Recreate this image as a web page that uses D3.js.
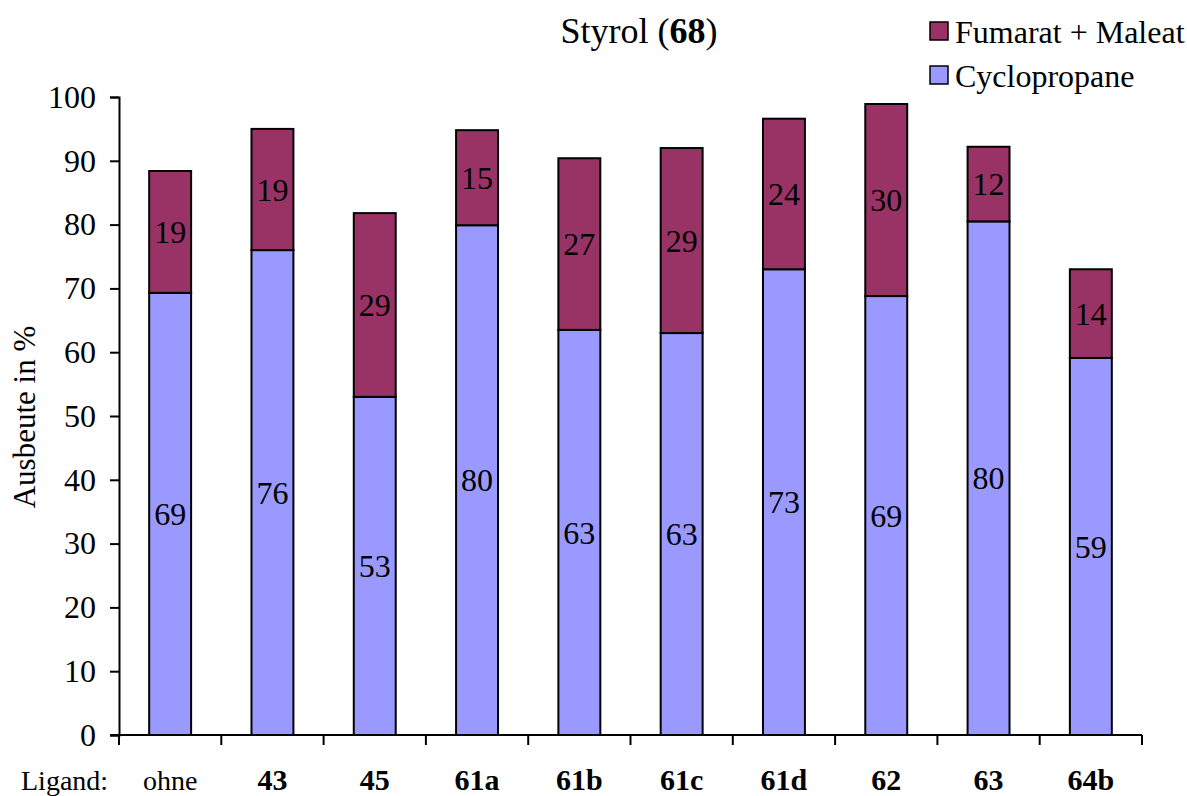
<!DOCTYPE html>
<html>
<head>
<meta charset="utf-8">
<script src="https://cdn.jsdelivr.net/npm/d3@7"></script>
<style>
  body { margin: 0; background: #fff; }
  svg text { font-family: "Liberation Serif", "Times New Roman", Times, serif !important; fill: #000; }
</style>
</head>
<body>
<script>
// data
var categories = ['ohne', '43', '45', '61a', '61b', '61c', '61d', '62', '63', '64b'];
var cyclopropane = [69.3, 76.0, 53.0, 79.9, 63.5, 63.0, 73.0, 68.8, 80.5, 59.1];
var fumaratMaleat = [19.1, 19.0, 28.8, 14.9, 26.9, 29.0, 23.6, 30.1, 11.7, 13.9];
var cycloLabels = [69, 76, 53, 80, 63, 63, 73, 69, 80, 59];
var fumLabels = [19, 19, 29, 15, 27, 29, 24, 30, 12, 14];
var yTicks = [0, 10, 20, 30, 40, 50, 60, 70, 80, 90, 100];

var width = 1187;
var height = 796;
var plotLeft = 119, plotRight = 1142, plotTop = 97, plotBottom = 735;
var serif = '"Liberation Serif", "Times New Roman", Times, serif';

var colCyclo = '#9999ff';
var colFum = '#993366';

var svg = d3.select('body').append('svg')
  .attr('width', width)
  .attr('height', height)
  .attr('font-family', serif);

var x = d3.scaleBand()
  .domain(categories)
  .range([plotLeft, plotRight])
  .paddingInner(0.59)
  .paddingOuter(0.295);

var y = d3.scaleLinear()
  .domain([0, 100])
  .range([plotBottom, plotTop]);

// y axis
var yAxis = svg.append('g')
  .attr('transform', 'translate(' + plotLeft + ',0)')
  .call(d3.axisLeft(y).tickValues(yTicks).tickSize(9).tickPadding(14));
yAxis.attr('font-family', serif).attr('font-size', 32);
yAxis.select('.domain').attr('stroke-width', 2);
yAxis.selectAll('.tick line').attr('stroke-width', 2);
yAxis.selectAll('.tick text')
  .style('font-family', serif)
  .style('font-size', '32px');

// bars
var g = svg.append('g');
categories.forEach(function(c, i) {
  var c0 = cyclopropane[i];
  var c1 = c0 + fumaratMaleat[i];
  g.append('rect')
    .attr('x', x(c))
    .attr('y', y(c0))
    .attr('width', x.bandwidth())
    .attr('height', y(0) - y(c0))
    .attr('fill', colCyclo)
    .attr('stroke', '#000')
    .attr('stroke-width', 2);
  g.append('rect')
    .attr('x', x(c))
    .attr('y', y(c1))
    .attr('width', x.bandwidth())
    .attr('height', y(c0) - y(c1))
    .attr('fill', colFum)
    .attr('stroke', '#000')
    .attr('stroke-width', 2);
  g.append('text')
    .attr('x', x(c) + x.bandwidth() / 2)
    .attr('y', y(c0 / 2))
    .attr('dy', '0.35em')
    .attr('text-anchor', 'middle')
    .style('font-family', serif)
    .style('font-size', '32px')
    .text(cycloLabels[i]);
  g.append('text')
    .attr('x', x(c) + x.bandwidth() / 2)
    .attr('y', y((c0 + c1) / 2))
    .attr('dy', '0.35em')
    .attr('text-anchor', 'middle')
    .style('font-family', serif)
    .style('font-size', '32px')
    .text(fumLabels[i]);
});

// x axis: ticks on category boundaries
var xAxis = svg.append('g')
  .attr('transform', 'translate(0,' + plotBottom + ')');
xAxis.append('line')
  .attr('x1', plotLeft - 9).attr('x2', plotRight)
  .attr('stroke', '#000').attr('stroke-width', 2);
d3.range(categories.length + 1).forEach(function(k) {
  var xx = plotLeft + k * x.step();
  xAxis.append('line')
    .attr('x1', xx).attr('x2', xx)
    .attr('y1', 0).attr('y2', 10)
    .attr('stroke', '#000').attr('stroke-width', 2);
});
categories.forEach(function(c, i) {
  xAxis.append('text')
    .attr('x', x(c) + x.bandwidth() / 2)
    .attr('y', 55)
    .attr('text-anchor', 'middle')
    .style('font-family', serif)
    .style('font-size', c === 'ohne' ? '28px' : '30px')
    .style('font-weight', c === 'ohne' ? 'normal' : 'bold')
    .text(c);
});
svg.append('text')
  .attr('x', 21)
  .attr('y', 790)
  .style('font-family', serif)
  .style('font-size', '28px')
  .text('Ligand:');

// y label
svg.append('text')
  .attr('transform', 'translate(35,' + 417 + ') rotate(-90)')
  .attr('text-anchor', 'middle')
  .style('font-family', serif)
  .style('font-size', '31px')
  .text('Ausbeute in %');

// title
var title = svg.append('text')
  .attr('x', 639)
  .attr('y', 43)
  .attr('text-anchor', 'middle')
  .style('font-family', serif)
  .style('font-size', '36px');
title.append('tspan').text('Styrol (');
title.append('tspan').style('font-weight', 'bold').text('68');
title.append('tspan').text(')');

// legend
var legend = [['Fumarat + Maleat', colFum], ['Cyclopropane', colCyclo]];
legend.forEach(function(d, i) {
  var ly = 22 + i * 44;
  svg.append('rect')
    .attr('x', 930).attr('y', ly)
    .attr('width', 18).attr('height', 18)
    .attr('fill', d[1])
    .attr('stroke', '#000').attr('stroke-width', 1.5);
  svg.append('text')
    .attr('x', 955).attr('y', ly + 21)
    .style('font-family', serif)
    .style('font-size', '32px')
    .text(d[0]);
});
</script>
</body>
</html>
